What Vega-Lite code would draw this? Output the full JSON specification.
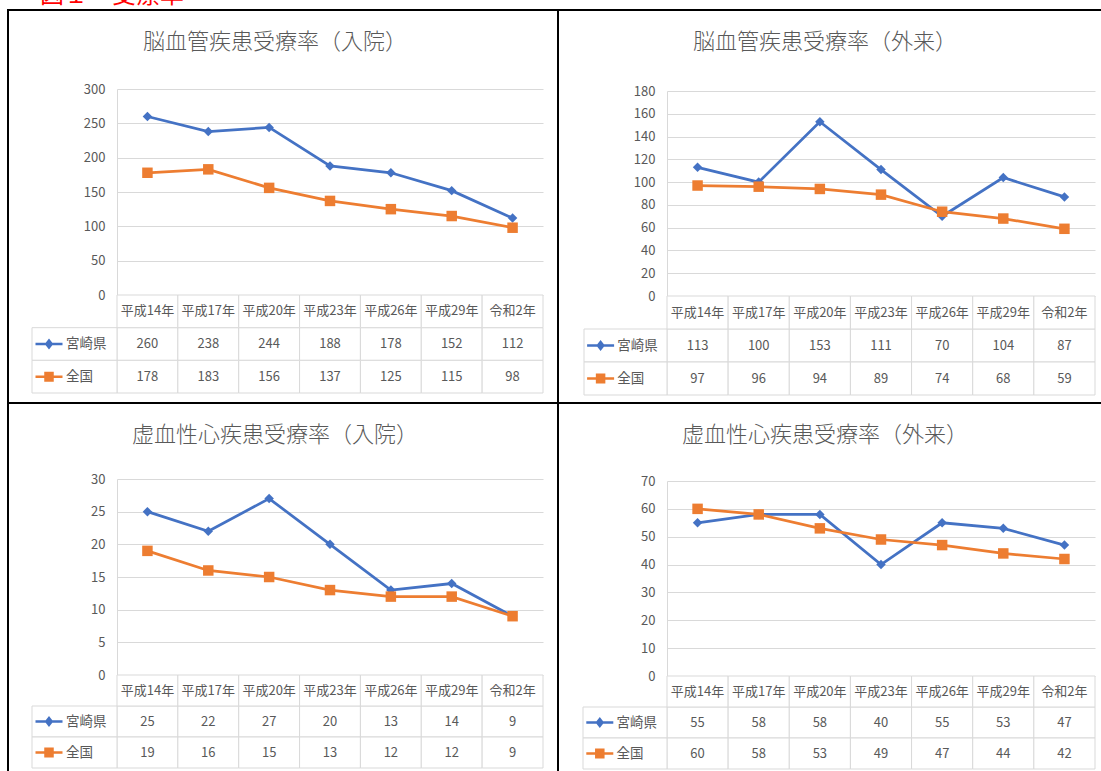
{
"$schema": "https://vega.github.io/schema/vega-lite/v6.json",
"padding": {"left": 7, "top": -16, "right": 0, "bottom": 0},
"background": "white",
"bounds": "flush",
"columns": 2,
"spacing": 0,
"title": {"text": "図１　受療率", "color": "#FF0000", "fontSize": 24, "fontWeight": "normal", "anchor": "start", "frame": "group", "dx": 32, "offset": -23, "baseline": "bottom"},
"config": {
 "view": {"stroke": "black", "strokeWidth": 2},
 "font": "Noto Sans CJK JP",
 "title": {"font": "Noto Sans CJK JP", "fontSize": 22, "fontWeight": 300, "color": "#595959", "offset": -44, "anchor": "middle", "dx": -8},
 "axis": {"labelFont": "Noto Sans CJK JP", "labelFontSize": 13, "labelColor": "#595959", "gridColor": "#d9d9d9", "gridWidth": 1, "domainColor": "#d9d9d9", "ticks": false, "labelPadding": 12},
 "text": {"font": "Noto Sans CJK JP", "color": "#595959", "fontSize": 13}
},
"datasets": {
 "p1": [
  {"cat": "平成14年", "series": "宮崎県", "value": 260},
  {"cat": "平成17年", "series": "宮崎県", "value": 238},
  {"cat": "平成20年", "series": "宮崎県", "value": 244},
  {"cat": "平成23年", "series": "宮崎県", "value": 188},
  {"cat": "平成26年", "series": "宮崎県", "value": 178},
  {"cat": "平成29年", "series": "宮崎県", "value": 152},
  {"cat": "令和2年", "series": "宮崎県", "value": 112},
  {"cat": "平成14年", "series": "全国", "value": 178},
  {"cat": "平成17年", "series": "全国", "value": 183},
  {"cat": "平成20年", "series": "全国", "value": 156},
  {"cat": "平成23年", "series": "全国", "value": 137},
  {"cat": "平成26年", "series": "全国", "value": 125},
  {"cat": "平成29年", "series": "全国", "value": 115},
  {"cat": "令和2年", "series": "全国", "value": 98}
 ],
 "p2": [
  {"cat": "平成14年", "series": "宮崎県", "value": 113},
  {"cat": "平成17年", "series": "宮崎県", "value": 100},
  {"cat": "平成20年", "series": "宮崎県", "value": 153},
  {"cat": "平成23年", "series": "宮崎県", "value": 111},
  {"cat": "平成26年", "series": "宮崎県", "value": 70},
  {"cat": "平成29年", "series": "宮崎県", "value": 104},
  {"cat": "令和2年", "series": "宮崎県", "value": 87},
  {"cat": "平成14年", "series": "全国", "value": 97},
  {"cat": "平成17年", "series": "全国", "value": 96},
  {"cat": "平成20年", "series": "全国", "value": 94},
  {"cat": "平成23年", "series": "全国", "value": 89},
  {"cat": "平成26年", "series": "全国", "value": 74},
  {"cat": "平成29年", "series": "全国", "value": 68},
  {"cat": "令和2年", "series": "全国", "value": 59}
 ],
 "p3": [
  {"cat": "平成14年", "series": "宮崎県", "value": 25},
  {"cat": "平成17年", "series": "宮崎県", "value": 22},
  {"cat": "平成20年", "series": "宮崎県", "value": 27},
  {"cat": "平成23年", "series": "宮崎県", "value": 20},
  {"cat": "平成26年", "series": "宮崎県", "value": 13},
  {"cat": "平成29年", "series": "宮崎県", "value": 14},
  {"cat": "令和2年", "series": "宮崎県", "value": 9},
  {"cat": "平成14年", "series": "全国", "value": 19},
  {"cat": "平成17年", "series": "全国", "value": 16},
  {"cat": "平成20年", "series": "全国", "value": 15},
  {"cat": "平成23年", "series": "全国", "value": 13},
  {"cat": "平成26年", "series": "全国", "value": 12},
  {"cat": "平成29年", "series": "全国", "value": 12},
  {"cat": "令和2年", "series": "全国", "value": 9}
 ],
 "p4": [
  {"cat": "平成14年", "series": "宮崎県", "value": 55},
  {"cat": "平成17年", "series": "宮崎県", "value": 58},
  {"cat": "平成20年", "series": "宮崎県", "value": 58},
  {"cat": "平成23年", "series": "宮崎県", "value": 40},
  {"cat": "平成26年", "series": "宮崎県", "value": 55},
  {"cat": "平成29年", "series": "宮崎県", "value": 53},
  {"cat": "令和2年", "series": "宮崎県", "value": 47},
  {"cat": "平成14年", "series": "全国", "value": 60},
  {"cat": "平成17年", "series": "全国", "value": 58},
  {"cat": "平成20年", "series": "全国", "value": 53},
  {"cat": "平成23年", "series": "全国", "value": 49},
  {"cat": "平成26年", "series": "全国", "value": 47},
  {"cat": "平成29年", "series": "全国", "value": 44},
  {"cat": "令和2年", "series": "全国", "value": 42}
 ]
},
"concat": [
 {
  "width": 550, "height": 393,
  "title": "脳血管疾患受療率（入院）",
  "data": {"name": "p1"},
  "resolve": {"scale": {"x": "independent", "y": "independent", "shape": "independent"}},
  "layer": [
   {
    "encoding": {
     "x": {"field": "cat", "type": "nominal", "scale": {"type": "point", "domain": ["平成14年","平成17年","平成20年","平成23年","平成26年","平成29年","令和2年"], "range": [109, 535], "padding": 0.5}, "axis": null},
     "color": {"field": "series", "type": "nominal", "scale": {"domain": ["宮崎県", "全国"], "range": ["#4472C4", "#ED7D31"]}, "legend": null}
    },
    "layer": [
     {"mark": {"type": "line", "strokeWidth": 2.75}, "encoding": {
       "y": {"field": "value", "type": "quantitative", "scale": {"domain": [0, 300], "range": [285, 79], "nice": false}, "axis": {"orient": "left", "offset": 0, "labels": false, "domain": false, "grid": true, "values": [0, 50, 100, 150, 200, 250, 300], "title": null}}}},
     {"mark": {"type": "point", "filled": true, "opacity": 1}, "encoding": {
       "y": {"field": "value", "type": "quantitative", "scale": {"domain": [0, 300], "range": [285, 79], "nice": false}, "axis": {"orient": "right", "offset": -441, "labelPadding": -12, "labelAlign": "right", "grid": false, "values": [0, 50, 100, 150, 200, 250, 300], "title": null}},
       "shape": {"field": "series", "type": "nominal", "scale": {"domain": ["宮崎県", "全国"], "range": ["diamond", "square"]}, "legend": null},
       "size": {"field": "series", "type": "nominal", "scale": {"domain": ["宮崎県", "全国"], "range": [90, 110]}, "legend": null}}}
    ]
   },
   {
    "resolve": {"scale": {"x": "independent"}},
    "layer": [
     {
      "encoding": {
       "x": {"field": "cat", "type": "nominal", "scale": {"type": "band", "domain": ["平成14年","平成17年","平成20年","平成23年","平成26年","平成29年","令和2年"], "range": [109, 535], "paddingInner": 0, "paddingOuter": 0}, "axis": null},
       "y": {"field": "series", "type": "nominal", "scale": {"type": "band", "domain": ["header", "宮崎県", "全国"], "range": [285, 383], "paddingInner": 0, "paddingOuter": 0}, "axis": null}
      },
      "layer": [
       {"mark": {"type": "rect", "fill": "white", "stroke": "#d9d9d9", "strokeWidth": 1}},
       {"transform": [{"filter": "datum.series === '宮崎県'"}], "mark": {"type": "rect", "fill": "white", "stroke": "#d9d9d9", "strokeWidth": 1}, "encoding": {"y": {"datum": "header", "type": "nominal", "axis": null}}},
       {"transform": [{"filter": "datum.series === '宮崎県'"}], "mark": {"type": "text", "fontSize": 13}, "encoding": {"y": {"datum": "header", "type": "nominal", "axis": null}, "text": {"field": "cat", "type": "nominal"}}},
       {"mark": {"type": "text"}, "encoding": {"text": {"field": "value", "type": "quantitative"}}}
      ]
     },
     {
      "transform": [{"filter": "datum.cat === '平成14年'"}],
      "encoding": {
       "x": {"datum": "凡例", "type": "nominal", "scale": {"type": "band", "domain": ["凡例"], "range": [24, 109], "paddingInner": 0, "paddingOuter": 0}, "axis": null},
       "y": {"field": "series", "type": "nominal", "axis": null}
      },
      "layer": [
       {"mark": {"type": "rect", "fill": "white", "stroke": "#d9d9d9", "strokeWidth": 1}},
       {"mark": {"type": "point", "filled": true, "opacity": 1, "strokeWidth": 2.5, "size": 729}, "encoding": {
         "x": {"datum": "凡例", "type": "nominal", "bandPosition": 0.2, "axis": null},
         "shape": {"field": "series", "type": "nominal", "scale": {"domain": ["宮崎県", "全国"], "range": ["M-1,0L1,0M-0.2,0L0,-0.26L0.2,0L0,0.26Z", "M-1,0L1,0M-0.26,-0.28L0.26,-0.28L0.26,0.28L-0.26,0.28Z"]}, "legend": null},
         "fill": {"field": "series", "type": "nominal", "scale": {"domain": ["宮崎県", "全国"], "range": ["#4472C4", "#ED7D31"]}, "legend": null},
         "stroke": {"field": "series", "type": "nominal", "scale": {"domain": ["宮崎県", "全国"], "range": ["#4472C4", "#ED7D31"]}, "legend": null}}},
       {"mark": {"type": "text", "align": "left", "fontSize": 13.5}, "encoding": {
         "x": {"datum": "凡例", "type": "nominal", "bandPosition": 0.4, "axis": null},
         "text": {"field": "series", "type": "nominal"}}}
      ]
     }
    ]
   }
  ]
 },
 {
  "width": 550, "height": 393,
  "title": "脳血管疾患受療率（外来）",
  "data": {"name": "p2"},
  "resolve": {"scale": {"x": "independent", "y": "independent", "shape": "independent"}},
  "layer": [
   {
    "encoding": {
     "x": {"field": "cat", "type": "nominal", "scale": {"type": "point", "domain": ["平成14年","平成17年","平成20年","平成23年","平成26年","平成29年","令和2年"], "range": [109, 537], "padding": 0.5}, "axis": null},
     "color": {"field": "series", "type": "nominal", "scale": {"domain": ["宮崎県", "全国"], "range": ["#4472C4", "#ED7D31"]}, "legend": null}
    },
    "layer": [
     {"mark": {"type": "line", "strokeWidth": 2.75}, "encoding": {
       "y": {"field": "value", "type": "quantitative", "scale": {"domain": [0, 180], "range": [286, 81], "nice": false}, "axis": {"orient": "left", "offset": 0, "labels": false, "domain": false, "grid": true, "values": [0, 20, 40, 60, 80, 100, 120, 140, 160, 180], "title": null}}}},
     {"mark": {"type": "point", "filled": true, "opacity": 1}, "encoding": {
       "y": {"field": "value", "type": "quantitative", "scale": {"domain": [0, 180], "range": [286, 81], "nice": false}, "axis": {"orient": "right", "offset": -441, "labelPadding": -12, "labelAlign": "right", "grid": false, "values": [0, 20, 40, 60, 80, 100, 120, 140, 160, 180], "title": null}},
       "shape": {"field": "series", "type": "nominal", "scale": {"domain": ["宮崎県", "全国"], "range": ["diamond", "square"]}, "legend": null},
       "size": {"field": "series", "type": "nominal", "scale": {"domain": ["宮崎県", "全国"], "range": [90, 110]}, "legend": null}}}
    ]
   },
   {
    "resolve": {"scale": {"x": "independent"}},
    "layer": [
     {
      "encoding": {
       "x": {"field": "cat", "type": "nominal", "scale": {"type": "band", "domain": ["平成14年","平成17年","平成20年","平成23年","平成26年","平成29年","令和2年"], "range": [109, 537], "paddingInner": 0, "paddingOuter": 0}, "axis": null},
       "y": {"field": "series", "type": "nominal", "scale": {"type": "band", "domain": ["header", "宮崎県", "全国"], "range": [286, 385], "paddingInner": 0, "paddingOuter": 0}, "axis": null}
      },
      "layer": [
       {"mark": {"type": "rect", "fill": "white", "stroke": "#d9d9d9", "strokeWidth": 1}},
       {"transform": [{"filter": "datum.series === '宮崎県'"}], "mark": {"type": "rect", "fill": "white", "stroke": "#d9d9d9", "strokeWidth": 1}, "encoding": {"y": {"datum": "header", "type": "nominal", "axis": null}}},
       {"transform": [{"filter": "datum.series === '宮崎県'"}], "mark": {"type": "text", "fontSize": 13}, "encoding": {"y": {"datum": "header", "type": "nominal", "axis": null}, "text": {"field": "cat", "type": "nominal"}}},
       {"mark": {"type": "text"}, "encoding": {"text": {"field": "value", "type": "quantitative"}}}
      ]
     },
     {
      "transform": [{"filter": "datum.cat === '平成14年'"}],
      "encoding": {
       "x": {"datum": "凡例", "type": "nominal", "scale": {"type": "band", "domain": ["凡例"], "range": [26, 109], "paddingInner": 0, "paddingOuter": 0}, "axis": null},
       "y": {"field": "series", "type": "nominal", "axis": null}
      },
      "layer": [
       {"mark": {"type": "rect", "fill": "white", "stroke": "#d9d9d9", "strokeWidth": 1}},
       {"mark": {"type": "point", "filled": true, "opacity": 1, "strokeWidth": 2.5, "size": 729}, "encoding": {
         "x": {"datum": "凡例", "type": "nominal", "bandPosition": 0.2, "axis": null},
         "shape": {"field": "series", "type": "nominal", "scale": {"domain": ["宮崎県", "全国"], "range": ["M-1,0L1,0M-0.2,0L0,-0.26L0.2,0L0,0.26Z", "M-1,0L1,0M-0.26,-0.28L0.26,-0.28L0.26,0.28L-0.26,0.28Z"]}, "legend": null},
         "fill": {"field": "series", "type": "nominal", "scale": {"domain": ["宮崎県", "全国"], "range": ["#4472C4", "#ED7D31"]}, "legend": null},
         "stroke": {"field": "series", "type": "nominal", "scale": {"domain": ["宮崎県", "全国"], "range": ["#4472C4", "#ED7D31"]}, "legend": null}}},
       {"mark": {"type": "text", "align": "left", "fontSize": 13.5}, "encoding": {
         "x": {"datum": "凡例", "type": "nominal", "bandPosition": 0.4, "axis": null},
         "text": {"field": "series", "type": "nominal"}}}
      ]
     }
    ]
   }
  ]
 },
 {
  "width": 550, "height": 393,
  "title": "虚血性心疾患受療率（入院）",
  "data": {"name": "p3"},
  "resolve": {"scale": {"x": "independent", "y": "independent", "shape": "independent"}},
  "layer": [
   {
    "encoding": {
     "x": {"field": "cat", "type": "nominal", "scale": {"type": "point", "domain": ["平成14年","平成17年","平成20年","平成23年","平成26年","平成29年","令和2年"], "range": [109, 535], "padding": 0.5}, "axis": null},
     "color": {"field": "series", "type": "nominal", "scale": {"domain": ["宮崎県", "全国"], "range": ["#4472C4", "#ED7D31"]}, "legend": null}
    },
    "layer": [
     {"mark": {"type": "line", "strokeWidth": 2.75}, "encoding": {
       "y": {"field": "value", "type": "quantitative", "scale": {"domain": [0, 30], "range": [272, 76], "nice": false}, "axis": {"orient": "left", "offset": 0, "labels": false, "domain": false, "grid": true, "values": [0, 5, 10, 15, 20, 25, 30], "title": null}}}},
     {"mark": {"type": "point", "filled": true, "opacity": 1}, "encoding": {
       "y": {"field": "value", "type": "quantitative", "scale": {"domain": [0, 30], "range": [272, 76], "nice": false}, "axis": {"orient": "right", "offset": -441, "labelPadding": -12, "labelAlign": "right", "grid": false, "values": [0, 5, 10, 15, 20, 25, 30], "title": null}},
       "shape": {"field": "series", "type": "nominal", "scale": {"domain": ["宮崎県", "全国"], "range": ["diamond", "square"]}, "legend": null},
       "size": {"field": "series", "type": "nominal", "scale": {"domain": ["宮崎県", "全国"], "range": [90, 110]}, "legend": null}}}
    ]
   },
   {
    "resolve": {"scale": {"x": "independent"}},
    "layer": [
     {
      "encoding": {
       "x": {"field": "cat", "type": "nominal", "scale": {"type": "band", "domain": ["平成14年","平成17年","平成20年","平成23年","平成26年","平成29年","令和2年"], "range": [109, 535], "paddingInner": 0, "paddingOuter": 0}, "axis": null},
       "y": {"field": "series", "type": "nominal", "scale": {"type": "band", "domain": ["header", "宮崎県", "全国"], "range": [272, 365], "paddingInner": 0, "paddingOuter": 0}, "axis": null}
      },
      "layer": [
       {"mark": {"type": "rect", "fill": "white", "stroke": "#d9d9d9", "strokeWidth": 1}},
       {"transform": [{"filter": "datum.series === '宮崎県'"}], "mark": {"type": "rect", "fill": "white", "stroke": "#d9d9d9", "strokeWidth": 1}, "encoding": {"y": {"datum": "header", "type": "nominal", "axis": null}}},
       {"transform": [{"filter": "datum.series === '宮崎県'"}], "mark": {"type": "text", "fontSize": 13}, "encoding": {"y": {"datum": "header", "type": "nominal", "axis": null}, "text": {"field": "cat", "type": "nominal"}}},
       {"mark": {"type": "text"}, "encoding": {"text": {"field": "value", "type": "quantitative"}}}
      ]
     },
     {
      "transform": [{"filter": "datum.cat === '平成14年'"}],
      "encoding": {
       "x": {"datum": "凡例", "type": "nominal", "scale": {"type": "band", "domain": ["凡例"], "range": [24, 109], "paddingInner": 0, "paddingOuter": 0}, "axis": null},
       "y": {"field": "series", "type": "nominal", "axis": null}
      },
      "layer": [
       {"mark": {"type": "rect", "fill": "white", "stroke": "#d9d9d9", "strokeWidth": 1}},
       {"mark": {"type": "point", "filled": true, "opacity": 1, "strokeWidth": 2.5, "size": 729}, "encoding": {
         "x": {"datum": "凡例", "type": "nominal", "bandPosition": 0.2, "axis": null},
         "shape": {"field": "series", "type": "nominal", "scale": {"domain": ["宮崎県", "全国"], "range": ["M-1,0L1,0M-0.2,0L0,-0.26L0.2,0L0,0.26Z", "M-1,0L1,0M-0.26,-0.28L0.26,-0.28L0.26,0.28L-0.26,0.28Z"]}, "legend": null},
         "fill": {"field": "series", "type": "nominal", "scale": {"domain": ["宮崎県", "全国"], "range": ["#4472C4", "#ED7D31"]}, "legend": null},
         "stroke": {"field": "series", "type": "nominal", "scale": {"domain": ["宮崎県", "全国"], "range": ["#4472C4", "#ED7D31"]}, "legend": null}}},
       {"mark": {"type": "text", "align": "left", "fontSize": 13.5}, "encoding": {
         "x": {"datum": "凡例", "type": "nominal", "bandPosition": 0.4, "axis": null},
         "text": {"field": "series", "type": "nominal"}}}
      ]
     }
    ]
   }
  ]
 },
 {
  "width": 550, "height": 393,
  "title": "虚血性心疾患受療率（外来）",
  "data": {"name": "p4"},
  "resolve": {"scale": {"x": "independent", "y": "independent", "shape": "independent"}},
  "layer": [
   {
    "encoding": {
     "x": {"field": "cat", "type": "nominal", "scale": {"type": "point", "domain": ["平成14年","平成17年","平成20年","平成23年","平成26年","平成29年","令和2年"], "range": [109, 537], "padding": 0.5}, "axis": null},
     "color": {"field": "series", "type": "nominal", "scale": {"domain": ["宮崎県", "全国"], "range": ["#4472C4", "#ED7D31"]}, "legend": null}
    },
    "layer": [
     {"mark": {"type": "line", "strokeWidth": 2.75}, "encoding": {
       "y": {"field": "value", "type": "quantitative", "scale": {"domain": [0, 70], "range": [273, 78], "nice": false}, "axis": {"orient": "left", "offset": 0, "labels": false, "domain": false, "grid": true, "values": [0, 10, 20, 30, 40, 50, 60, 70], "title": null}}}},
     {"mark": {"type": "point", "filled": true, "opacity": 1}, "encoding": {
       "y": {"field": "value", "type": "quantitative", "scale": {"domain": [0, 70], "range": [273, 78], "nice": false}, "axis": {"orient": "right", "offset": -441, "labelPadding": -12, "labelAlign": "right", "grid": false, "values": [0, 10, 20, 30, 40, 50, 60, 70], "title": null}},
       "shape": {"field": "series", "type": "nominal", "scale": {"domain": ["宮崎県", "全国"], "range": ["diamond", "square"]}, "legend": null},
       "size": {"field": "series", "type": "nominal", "scale": {"domain": ["宮崎県", "全国"], "range": [90, 110]}, "legend": null}}}
    ]
   },
   {
    "resolve": {"scale": {"x": "independent"}},
    "layer": [
     {
      "encoding": {
       "x": {"field": "cat", "type": "nominal", "scale": {"type": "band", "domain": ["平成14年","平成17年","平成20年","平成23年","平成26年","平成29年","令和2年"], "range": [109, 537], "paddingInner": 0, "paddingOuter": 0}, "axis": null},
       "y": {"field": "series", "type": "nominal", "scale": {"type": "band", "domain": ["header", "宮崎県", "全国"], "range": [273, 366], "paddingInner": 0, "paddingOuter": 0}, "axis": null}
      },
      "layer": [
       {"mark": {"type": "rect", "fill": "white", "stroke": "#d9d9d9", "strokeWidth": 1}},
       {"transform": [{"filter": "datum.series === '宮崎県'"}], "mark": {"type": "rect", "fill": "white", "stroke": "#d9d9d9", "strokeWidth": 1}, "encoding": {"y": {"datum": "header", "type": "nominal", "axis": null}}},
       {"transform": [{"filter": "datum.series === '宮崎県'"}], "mark": {"type": "text", "fontSize": 13}, "encoding": {"y": {"datum": "header", "type": "nominal", "axis": null}, "text": {"field": "cat", "type": "nominal"}}},
       {"mark": {"type": "text"}, "encoding": {"text": {"field": "value", "type": "quantitative"}}}
      ]
     },
     {
      "transform": [{"filter": "datum.cat === '平成14年'"}],
      "encoding": {
       "x": {"datum": "凡例", "type": "nominal", "scale": {"type": "band", "domain": ["凡例"], "range": [25, 109], "paddingInner": 0, "paddingOuter": 0}, "axis": null},
       "y": {"field": "series", "type": "nominal", "axis": null}
      },
      "layer": [
       {"mark": {"type": "rect", "fill": "white", "stroke": "#d9d9d9", "strokeWidth": 1}},
       {"mark": {"type": "point", "filled": true, "opacity": 1, "strokeWidth": 2.5, "size": 729}, "encoding": {
         "x": {"datum": "凡例", "type": "nominal", "bandPosition": 0.2, "axis": null},
         "shape": {"field": "series", "type": "nominal", "scale": {"domain": ["宮崎県", "全国"], "range": ["M-1,0L1,0M-0.2,0L0,-0.26L0.2,0L0,0.26Z", "M-1,0L1,0M-0.26,-0.28L0.26,-0.28L0.26,0.28L-0.26,0.28Z"]}, "legend": null},
         "fill": {"field": "series", "type": "nominal", "scale": {"domain": ["宮崎県", "全国"], "range": ["#4472C4", "#ED7D31"]}, "legend": null},
         "stroke": {"field": "series", "type": "nominal", "scale": {"domain": ["宮崎県", "全国"], "range": ["#4472C4", "#ED7D31"]}, "legend": null}}},
       {"mark": {"type": "text", "align": "left", "fontSize": 13.5}, "encoding": {
         "x": {"datum": "凡例", "type": "nominal", "bandPosition": 0.4, "axis": null},
         "text": {"field": "series", "type": "nominal"}}}
      ]
     }
    ]
   }
  ]
 }
]
}
